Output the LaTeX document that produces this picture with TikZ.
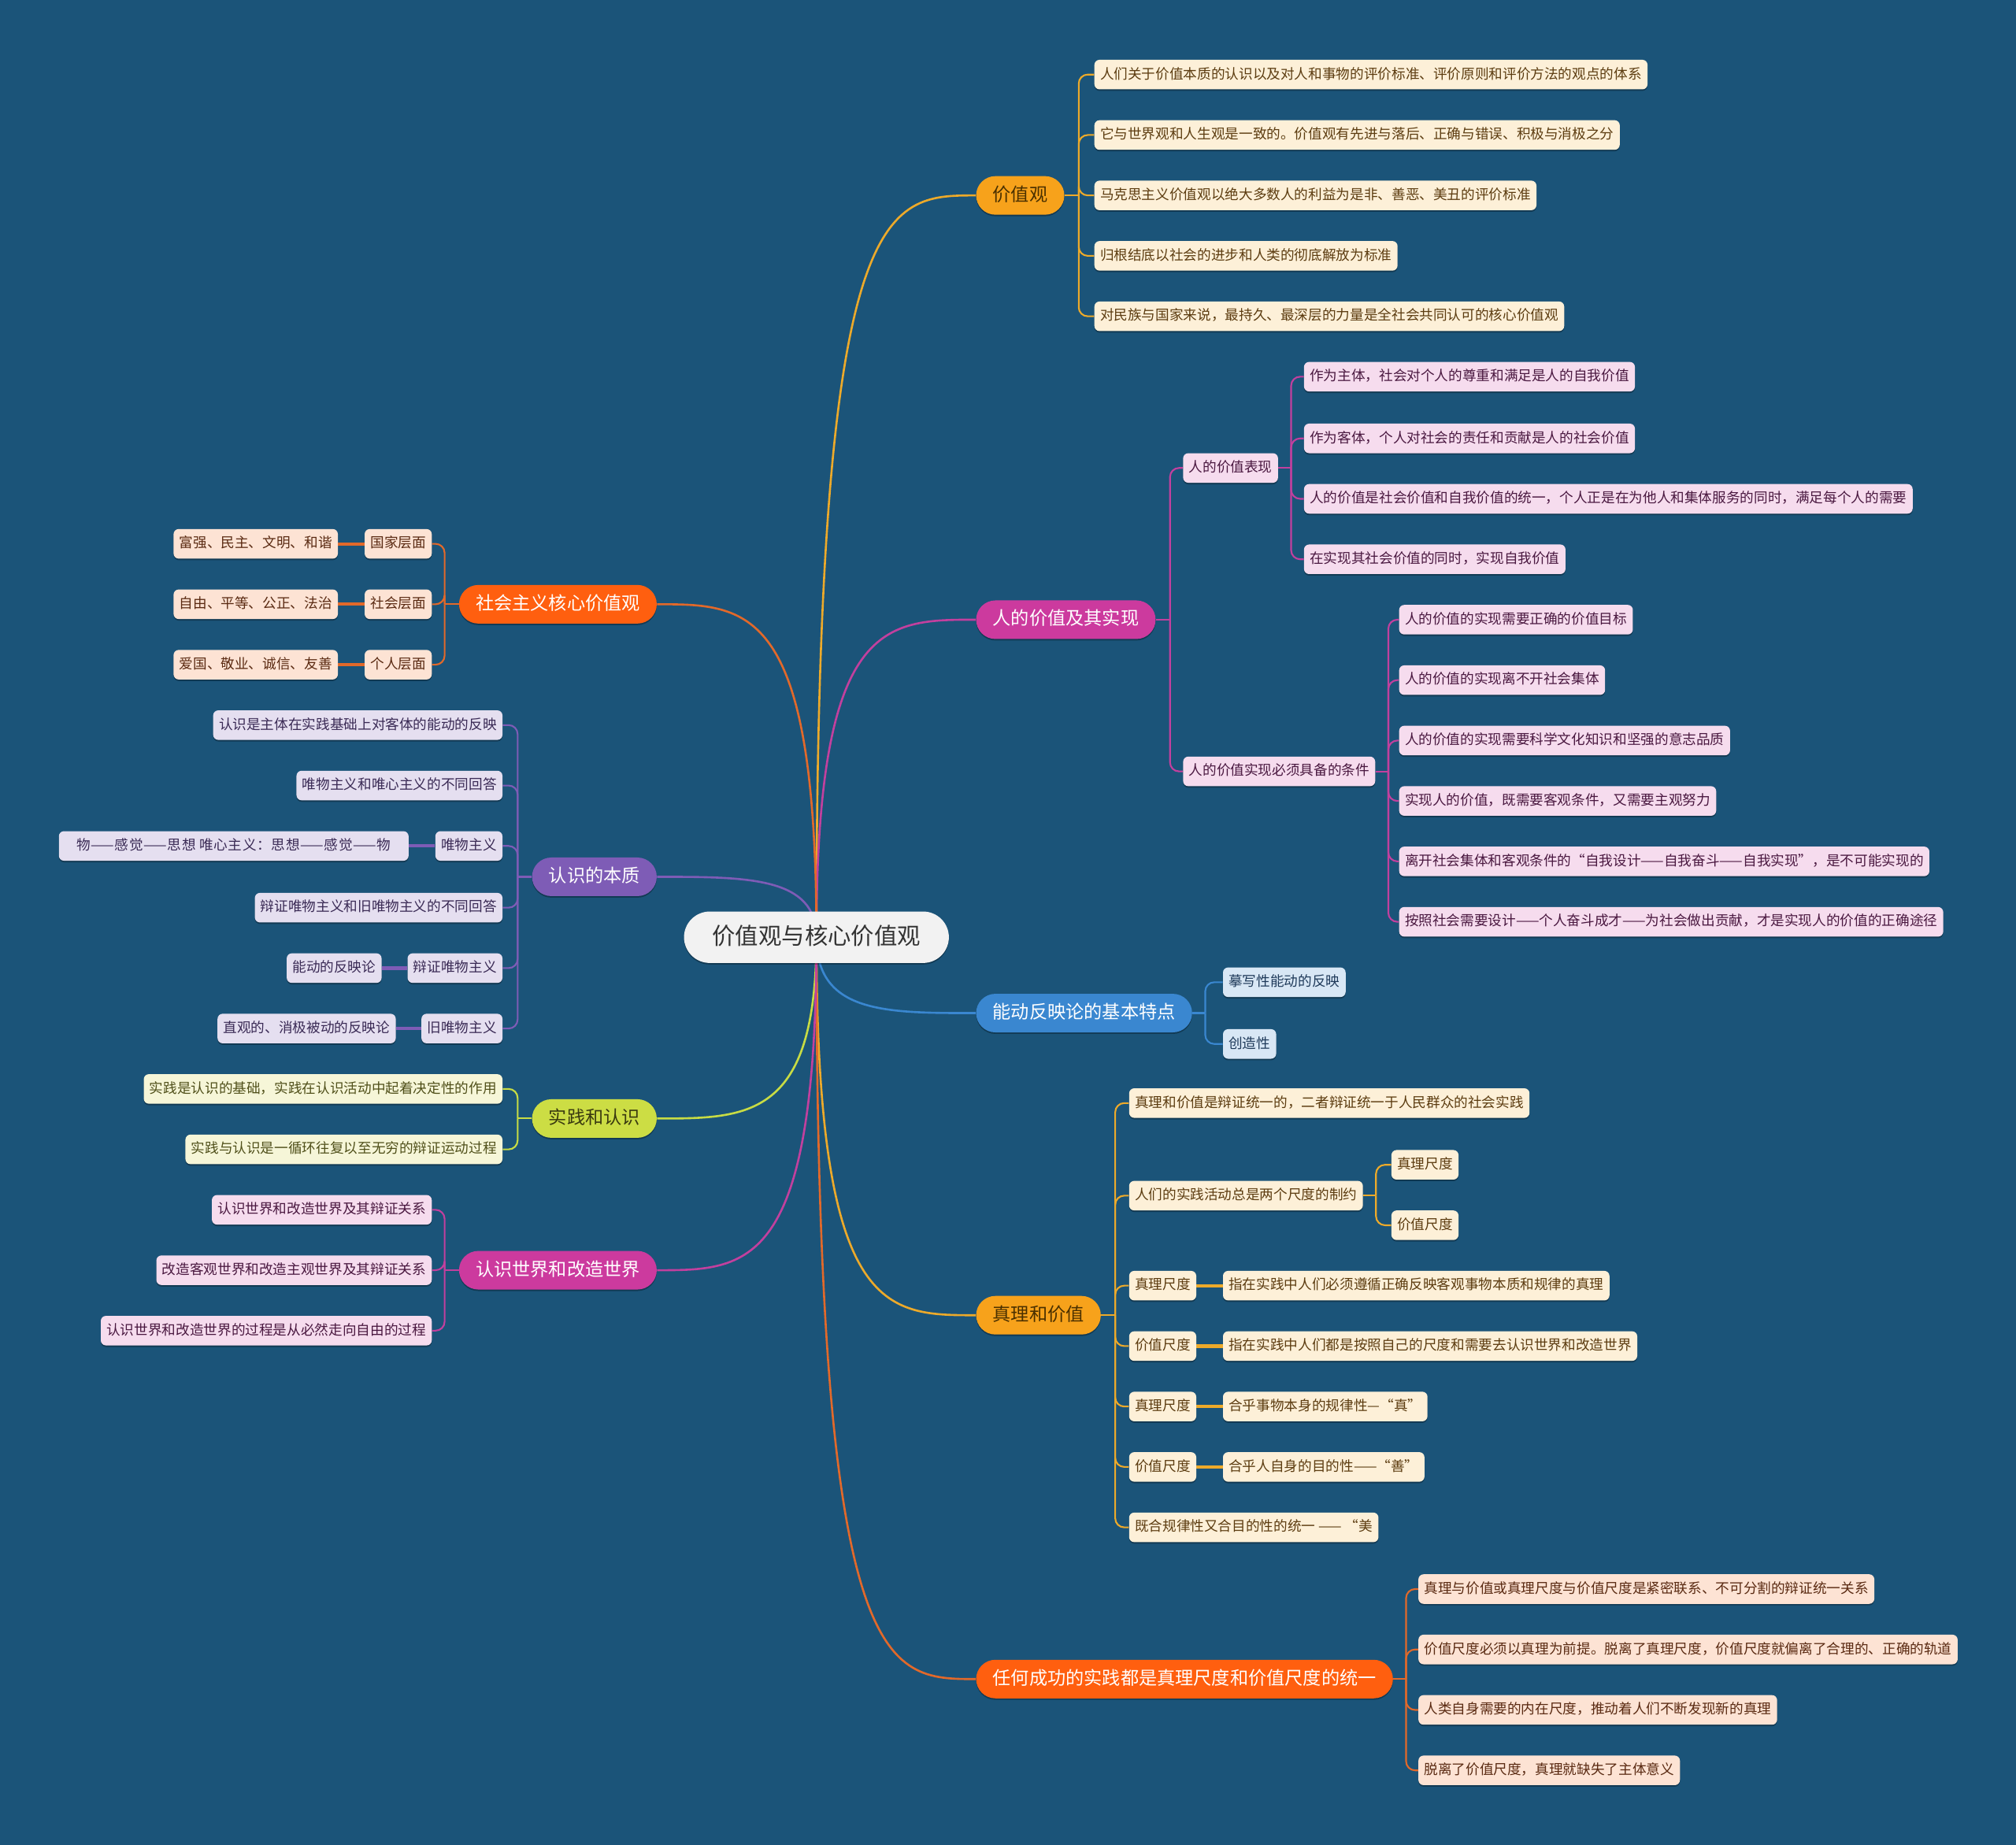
\documentclass[tikz,border=0pt]{standalone}
\usepackage{fontspec}
\setmainfont{Noto Sans CJK SC}
\newfontfamily\widecjk[LetterSpace=4.0]{Noto Sans CJK SC}
\usetikzlibrary{shadows}
\pgfdeclarelayer{back}
\pgfdeclarelayer{bg}
\pgfsetlayers{back,bg,main}

\definecolor{bgc}{HTML}{1B5479}
\definecolor{yelF}{HTML}{F7A21B}\definecolor{yelL}{HTML}{EDAA2A}\definecolor{yelLeaf}{HTML}{FDF0D8}\definecolor{yelT}{HTML}{5C3C10}\definecolor{yelD}{HTML}{4A3000}
\definecolor{magF}{HTML}{CC3A9E}\definecolor{magL}{HTML}{C2409E}\definecolor{magLeaf}{HTML}{F6DCEE}\definecolor{magT}{HTML}{4A1840}
\definecolor{bluF}{HTML}{3A87D0}\definecolor{bluL}{HTML}{3A87D0}\definecolor{bluLeaf}{HTML}{D8E7F5}\definecolor{bluT}{HTML}{1F3A5A}
\definecolor{redF}{HTML}{FF5F0F}\definecolor{redL}{HTML}{E2692A}\definecolor{redLeaf}{HTML}{FDE3D4}\definecolor{redT}{HTML}{5A2A12}
\definecolor{purF}{HTML}{7E5CB6}\definecolor{purL}{HTML}{7E5CB6}\definecolor{purLeaf}{HTML}{E5DFF0}\definecolor{purT}{HTML}{3A2A55}
\definecolor{grnF}{HTML}{CCDD44}\definecolor{grnL}{HTML}{C8DC44}\definecolor{grnLeaf}{HTML}{F6F6D8}\definecolor{grnT}{HTML}{50501A}\definecolor{grnD}{HTML}{3A3A10}
\definecolor{rootF}{HTML}{F2F2F2}\definecolor{rootT}{HTML}{333333}

\tikzset{
  shadowed/.style={drop shadow={shadow xshift=0pt,shadow yshift=-1.2pt,opacity=0.3,fill=black}},
  rootbox/.style={shadowed,fill=rootF,text=rootT,rounded corners=20pt,minimum height=40pt,inner xsep=22pt,inner ysep=0pt,
    font=\fontsize{18}{20}\selectfont,text height=14pt,text depth=3pt},
  lvone/.style={shadowed,rounded corners=15pt,minimum height=30pt,inner xsep=13pt,inner ysep=0pt,
    font=\fontsize{14.2}{16}\selectfont,text height=11pt,text depth=2.5pt},
  leafbox/.style={shadowed,rounded corners=4pt,minimum height=23pt,inner xsep=4.5pt,inner ysep=0pt,
    font=\fontsize{10.8}{13}\selectfont,text height=8.5pt,text depth=2pt},
  yleaf/.style={leafbox,fill=yelLeaf,text=yelT},
  mleaf/.style={leafbox,fill=magLeaf,text=magT},
  bleaf/.style={leafbox,fill=bluLeaf,text=bluT},
  rleaf/.style={leafbox,fill=redLeaf,text=redT},
  pleaf/.style={leafbox,fill=purLeaf,text=purT},
  gleaf/.style={leafbox,fill=grnLeaf,text=grnT},
  mainln/.style={line width=1.6pt},
  subln/.style={line width=1.3pt,rounded corners=7pt},
  pairln/.style={line width=2.6pt},
}

\begin{document}
\begin{tikzpicture}[x=1pt,y=-1pt]
\begin{pgfonlayer}{back}
\fill[bgc] (0,0) rectangle (1568,1435);
\end{pgfonlayer}
\useasboundingbox (0,0) rectangle (1568,1435);

% root
\node[rootbox] (root) at (635,729) {价值观与核心价值观};

% level one, right
\node[lvone,fill=yelF,text=yelD,anchor=west] (jzg) at (759,152) {价值观};
\node[lvone,fill=magF,text=white,anchor=west] (rjz) at (759,482) {人的价值及其实现};
\node[lvone,fill=bluF,text=white,anchor=west] (ndf) at (759,788) {能动反映论的基本特点};
\node[lvone,fill=yelF,text=yelD,anchor=west] (zlj) at (759,1023) {真理和价值};
\node[lvone,fill=redF,text=white,anchor=west] (rhc) at (759,1306) {任何成功的实践都是真理尺度和价值尺度的统一};
% level one, left
\node[lvone,fill=redF,text=white,anchor=east] (shz) at (511,470) {社会主义核心价值观};
\node[lvone,fill=purF,text=white,anchor=east] (rsb) at (511,682) {认识的本质};
\node[lvone,fill=grnF,text=grnD,anchor=east] (sjr) at (511,870) {实践和认识};
\node[lvone,fill=magF,text=white,anchor=east] (rsj) at (511,988) {认识世界和改造世界};

% 价值观
\node[yleaf,anchor=west] (a1) at (851,58) {人们关于价值本质的认识以及对人和事物的评价标准、评价原则和评价方法的观点的体系};
\node[yleaf,anchor=west] (a2) at (851,105) {它与世界观和人生观是一致的。价值观有先进与落后、正确与错误、积极与消极之分};
\node[yleaf,anchor=west] (a3) at (851,152) {马克思主义价值观以绝大多数人的利益为是非、善恶、美丑的评价标准};
\node[yleaf,anchor=west] (a4) at (851,199) {归根结底以社会的进步和人类的彻底解放为标准};
\node[yleaf,anchor=west] (a5) at (851,246) {对民族与国家来说，最持久、最深层的力量是全社会共同认可的核心价值观};

% 人的价值及其实现
\node[mleaf,anchor=west] (b1) at (920,364) {人的价值表现};
\node[mleaf,anchor=west] (b2) at (920,600) {人的价值实现必须具备的条件};
\node[mleaf,anchor=west] (b11) at (1014,293) {作为主体，社会对个人的尊重和满足是人的自我价值};
\node[mleaf,anchor=west] (b12) at (1014,341) {作为客体，个人对社会的责任和贡献是人的社会价值};
\node[mleaf,anchor=west] (b13) at (1014,388) {人的价值是社会价值和自我价值的统一，个人正是在为他人和集体服务的同时，满足每个人的需要};
\node[mleaf,anchor=west] (b14) at (1014,435) {在实现其社会价值的同时，实现自我价值};
\node[mleaf,anchor=west] (b21) at (1088,482) {人的价值的实现需要正确的价值目标};
\node[mleaf,anchor=west] (b22) at (1088,529) {人的价值的实现离不开社会集体};
\node[mleaf,anchor=west] (b23) at (1088,576) {人的价值的实现需要科学文化知识和坚强的意志品质};
\node[mleaf,anchor=west] (b24) at (1088,623) {实现人的价值，既需要客观条件，又需要主观努力};
\node[mleaf,anchor=west] (b25) at (1088,670) {离开社会集体和客观条件的“自我设计——自我奋斗——自我实现”，是不可能实现的};
\node[mleaf,anchor=west] (b26) at (1088,717) {按照社会需要设计——个人奋斗成才——为社会做出贡献，才是实现人的价值的正确途径};

% 能动反映论
\node[bleaf,anchor=west] (c1) at (951,764) {摹写性能动的反映};
\node[bleaf,anchor=west] (c2) at (951,812) {创造性};

% 真理和价值
\node[yleaf,anchor=west] (d1) at (878,858) {真理和价值是辩证统一的，二者辩证统一于人民群众的社会实践};
\node[yleaf,anchor=west] (d2) at (878,930) {人们的实践活动总是两个尺度的制约};
\node[yleaf,anchor=west] (d2a) at (1082,906) {真理尺度};
\node[yleaf,anchor=west] (d2b) at (1082,953) {价值尺度};
\node[yleaf,anchor=west] (d3) at (878,1000) {真理尺度};
\node[yleaf,anchor=west] (d3a) at (951,1000) {指在实践中人们必须遵循正确反映客观事物本质和规律的真理};
\node[yleaf,anchor=west] (d4) at (878,1047) {价值尺度};
\node[yleaf,anchor=west] (d4a) at (951,1047) {指在实践中人们都是按照自己的尺度和需要去认识世界和改造世界};
\node[yleaf,anchor=west] (d5) at (878,1094) {真理尺度};
\node[yleaf,anchor=west] (d5a) at (951,1094) {合乎事物本身的规律性—“真”};
\node[yleaf,anchor=west] (d6) at (878,1141) {价值尺度};
\node[yleaf,anchor=west] (d6a) at (951,1141) {合乎人自身的目的性——“善”};
\node[yleaf,anchor=west] (d7) at (878,1188) {既合规律性又合目的性的统一 —— “美};

% 任何成功
\node[rleaf,anchor=west] (e1) at (1103,1236) {真理与价值或真理尺度与价值尺度是紧密联系、不可分割的辩证统一关系};
\node[rleaf,anchor=west] (e2) at (1103,1283) {价值尺度必须以真理为前提。脱离了真理尺度，价值尺度就偏离了合理的、正确的轨道};
\node[rleaf,anchor=west] (e3) at (1103,1330) {人类自身需要的内在尺度，推动着人们不断发现新的真理};
\node[rleaf,anchor=west] (e4) at (1103,1377) {脱离了价值尺度，真理就缺失了主体意义};

% 社会主义核心价值观
\node[rleaf,anchor=east] (f1) at (336,423) {国家层面};
\node[rleaf,anchor=east] (f2) at (336,470) {社会层面};
\node[rleaf,anchor=east] (f3) at (336,517) {个人层面};
\node[rleaf,anchor=east] (f1a) at (263,423) {富强、民主、文明、和谐};
\node[rleaf,anchor=east] (f2a) at (263,470) {自由、平等、公正、法治};
\node[rleaf,anchor=east] (f3a) at (263,517) {爱国、敬业、诚信、友善};

% 认识的本质
\node[pleaf,anchor=east] (g1) at (391,564) {认识是主体在实践基础上对客体的能动的反映};
\node[pleaf,anchor=east] (g2) at (391,611) {唯物主义和唯心主义的不同回答};
\node[pleaf,anchor=east] (g3) at (391,658) {唯物主义};
\node[pleaf,anchor=east,minimum width=272pt,font=\widecjk\fontsize{10.8}{13}\selectfont] (g3a) at (318,658) {物——感觉——思想 唯心主义：思想——感觉——物};
\node[pleaf,anchor=east] (g4) at (391,706) {辩证唯物主义和旧唯物主义的不同回答};
\node[pleaf,anchor=east] (g5) at (391,753) {辩证唯物主义};
\node[pleaf,anchor=east] (g5a) at (297,753) {能动的反映论};
\node[pleaf,anchor=east] (g6) at (391,800) {旧唯物主义};
\node[pleaf,anchor=east] (g6a) at (308,800) {直观的、消极被动的反映论};

% 实践和认识
\node[gleaf,anchor=east] (h1) at (391,847) {实践是认识的基础，实践在认识活动中起着决定性的作用};
\node[gleaf,anchor=east] (h2) at (391,894) {实践与认识是一循环往复以至无穷的辩证运动过程};

% 认识世界和改造世界
\node[mleaf,anchor=east] (i1) at (336,941) {认识世界和改造世界及其辩证关系};
\node[mleaf,anchor=east] (i2) at (336,988) {改造客观世界和改造主观世界及其辩证关系};
\node[mleaf,anchor=east] (i3) at (336,1035) {认识世界和改造世界的过程是从必然走向自由的过程};

% junction coordinates
\coordinate (jzgj) at ([xshift=11pt]jzg.east);
\coordinate (rjzj) at ([xshift=11pt]rjz.east);
\coordinate (b1j) at ([xshift=10pt]b1.east);
\coordinate (b2j) at ([xshift=10pt]b2.east);
\coordinate (ndfj) at ([xshift=10pt]ndf.east);
\coordinate (zljj) at ([xshift=11pt]zlj.east);
\coordinate (d2j) at ([xshift=10pt]d2.east);
\coordinate (rhcj) at ([xshift=10pt]rhc.east);
\coordinate (shzj) at ([xshift=-11pt]shz.west);
\coordinate (rsbj) at ([xshift=-11pt]rsb.west);
\coordinate (sjrj) at ([xshift=-11pt]sjr.west);
\coordinate (rsjj) at ([xshift=-11pt]rsj.west);

\begin{pgfonlayer}{bg}
% root to level one
\draw[mainln,yelL] (root.center) .. controls (635,152) and (688,152) .. (jzg.west);
\draw[mainln,magL] (root.center) .. controls (635,482) and (688,482) .. (rjz.west);
\draw[mainln,bluL] (root.center) .. controls (635,788) and (688,788) .. (ndf.west);
\draw[mainln,yelL] (root.center) .. controls (635,1023) and (688,1023) .. (zlj.west);
\draw[mainln,redL] (root.center) .. controls (635,1306) and (688,1306) .. (rhc.west);
\draw[mainln,redL] (root.center) .. controls (635,470) and (582,470) .. (shz.east);
\draw[mainln,purL] (root.center) .. controls (635,682) and (582,682) .. (rsb.east);
\draw[mainln,grnL] (root.center) .. controls (635,870) and (582,870) .. (sjr.east);
\draw[mainln,magL] (root.center) .. controls (635,988) and (582,988) .. (rsj.east);

% 价值观
\draw[subln,yelL] (jzg.east) -- (jzgj);
\foreach \c in {a1,a2,a3,a4,a5} \draw[subln,yelL] (jzgj) |- (\c.west);
% 人的价值
\draw[subln,magL] (rjz.east) -- (rjzj);
\foreach \c in {b1,b2} \draw[subln,magL] (rjzj) |- (\c.west);
\draw[subln,magL] (b1.east) -- (b1j);
\foreach \c in {b11,b12,b13,b14} \draw[subln,magL] (b1j) |- (\c.west);
\draw[subln,magL] (b2.east) -- (b2j);
\foreach \c in {b21,b22,b23,b24,b25,b26} \draw[subln,magL] (b2j) |- (\c.west);
% 能动反映论
\draw[subln,bluL] (ndf.east) -- (ndfj);
\foreach \c in {c1,c2} \draw[subln,bluL] (ndfj) |- (\c.west);
% 真理和价值
\draw[subln,yelL] (zlj.east) -- (zljj);
\foreach \c in {d1,d2,d3,d4,d5,d6,d7} \draw[subln,yelL] (zljj) |- (\c.west);
\draw[subln,yelL] (d2.east) -- (d2j);
\foreach \c in {d2a,d2b} \draw[subln,yelL] (d2j) |- (\c.west);
\draw[pairln,yelL] (d3.east) -- (d3a.west);
\draw[pairln,yelL] (d4.east) -- (d4a.west);
\draw[pairln,yelL] (d5.east) -- (d5a.west);
\draw[pairln,yelL] (d6.east) -- (d6a.west);
% 任何成功
\draw[subln,redL] (rhc.east) -- (rhcj);
\foreach \c in {e1,e2,e3,e4} \draw[subln,redL] (rhcj) |- (\c.west);
% 社会主义核心价值观
\draw[subln,redL] (shz.west) -- (shzj);
\foreach \c in {f1,f2,f3} \draw[subln,redL] (shzj) |- (\c.east);
\draw[pairln,redL] (f1.west) -- (f1a.east);
\draw[pairln,redL] (f2.west) -- (f2a.east);
\draw[pairln,redL] (f3.west) -- (f3a.east);
% 认识的本质
\draw[subln,purL] (rsb.west) -- (rsbj);
\foreach \c in {g1,g2,g3,g4,g5,g6} \draw[subln,purL] (rsbj) |- (\c.east);
\draw[pairln,purL] (g3.west) -- (g3a.east);
\draw[pairln,purL] (g5.west) -- (g5a.east);
\draw[pairln,purL] (g6.west) -- (g6a.east);
% 实践和认识
\draw[subln,grnL] (sjr.west) -- (sjrj);
\foreach \c in {h1,h2} \draw[subln,grnL] (sjrj) |- (\c.east);
% 认识世界和改造世界
\draw[subln,magL] (rsj.west) -- (rsjj);
\foreach \c in {i1,i2,i3} \draw[subln,magL] (rsjj) |- (\c.east);
\end{pgfonlayer}
\end{tikzpicture}
\end{document}
